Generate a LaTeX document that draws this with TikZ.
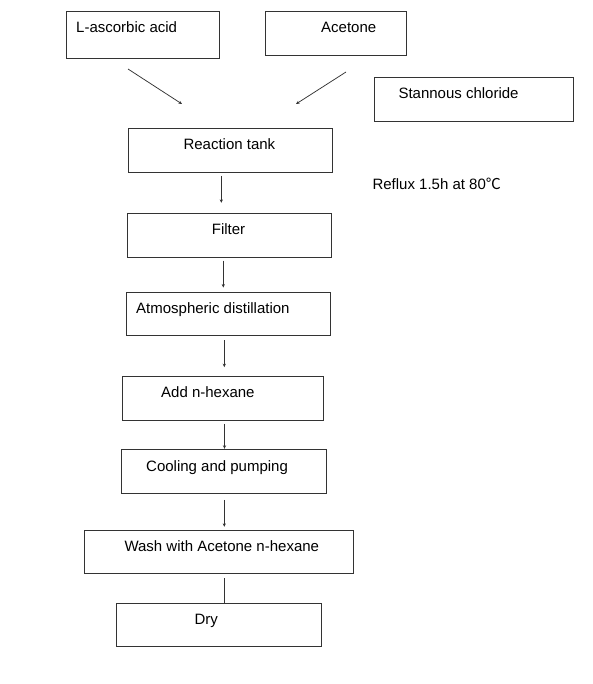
\documentclass[tikz,border=0pt]{standalone}
\usepackage{fontspec}
\setmainfont{Liberation Sans}
\newfontfamily\cjkfont{Noto Sans CJK SC}
\usetikzlibrary{arrows.meta}
\tikzset{>={Stealth[length=3.5pt,width=3.2pt]}}
\tikzset{
  stepbox/.style={draw=black!80, line width=1pt, inner sep=0pt},
  steptext/.style={anchor=base west, inner sep=0pt, font=\fontsize{15}{18}\selectfont},
  flow/.style={->, draw=black!80, line width=0.75pt}
}

\begin{document}
\begin{tikzpicture}[x=1pt, y=-1pt]
    \useasboundingbox (0,0) rectangle (593,684);
    % boxes
    \node[stepbox, minimum width=153.3pt, minimum height=46.7pt] (acid) at (143.3,35) {};
    \node[stepbox, minimum width=140.7pt, minimum height=44.3pt] (acetone) at (335.7,33.2) {};
    \node[stepbox, minimum width=199.3pt, minimum height=44pt] (stannous) at (473.7,99.3) {};
    \node[stepbox, minimum width=204pt, minimum height=44pt] (tank) at (230.3,150.3) {};
    \node[stepbox, minimum width=204pt, minimum height=43.7pt] (filter) at (229.3,235.2) {};
    \node[stepbox, minimum width=204pt, minimum height=43.7pt] (distil) at (228.3,313.9) {};
    \node[stepbox, minimum width=201.4pt, minimum height=43.6pt] (hexane) at (223,398.5) {};
    \node[stepbox, minimum width=204.7pt, minimum height=44pt] (cooling) at (223.7,471.3) {};
    \node[stepbox, minimum width=269pt, minimum height=43.4pt] (wash) at (218.8,552) {};
    \node[stepbox, minimum width=204.3pt, minimum height=43.7pt] (dry) at (218.9,624.9) {};
    % texts
    \node[steptext] (acidtext) at (76,33) {L-ascorbic acid};
    \node[steptext] (acetonetext) at (321,32.3) {Acetone};
    \node[steptext] (stannoustext) at (398.3,99) {Stannous chloride};
    \node[steptext] (tanktext) at (183.3,150) {Reaction tank};
    \node[steptext] (refluxtext) at (372.3,190) {Reflux 1.5h at 80{\cjkfont ℃}};
    \node[steptext] (filtertext) at (211.7,235) {Filter};
    \node[steptext] (distiltext) at (136,313.3) {Atmospheric distillation};
    \node[steptext] (hexanetext) at (161,397.7) {Add n-hexane};
    \node[steptext] (coolingtext) at (146,471) {Cooling and pumping};
    \node[steptext] (washtext) at (124.3,551.7) {Wash with Acetone n-hexane};
    \node[steptext] (drytext) at (194.3,624.3) {Dry};
    % feed arrows
    \coordinate (acidout) at (128,69);
    \coordinate (acidin) at (182,104);
    \coordinate (acetoneout) at (346,72);
    \coordinate (acetonein) at (296,104);
    \draw[flow] (acidout) -- (acidin);
    \draw[flow] (acetoneout) -- (acetonein);
    % process arrows
    \draw[flow, shorten <=3pt, shorten >=10pt] ([xshift=-9pt]tank.south) -- ([xshift=-9pt]tank.south |- filter.north);
    \draw[flow, shorten <=3pt, shorten >=4pt] ([xshift=-6pt]filter.south) -- ([xshift=-6pt]filter.south |- distil.north);
    \draw[flow, shorten <=4pt, shorten >=9pt] ([xshift=-4pt]distil.south) -- ([xshift=-4pt]distil.south |- hexane.north);
    \draw[flow, shorten <=3pt] ([xshift=1.5pt]hexane.south) -- ([xshift=1.5pt]hexane.south |- cooling.north);
    \draw[flow, shorten <=6pt, shorten >=3pt] ([xshift=0.6pt]cooling.south) -- ([xshift=0.6pt]cooling.south |- wash.north);
    \draw[draw=black!80, line width=0.75pt, shorten <=4pt] ([xshift=5.2pt]wash.south) -- ([xshift=5.2pt]wash.south |- dry.north);
\end{tikzpicture}
\end{document}
